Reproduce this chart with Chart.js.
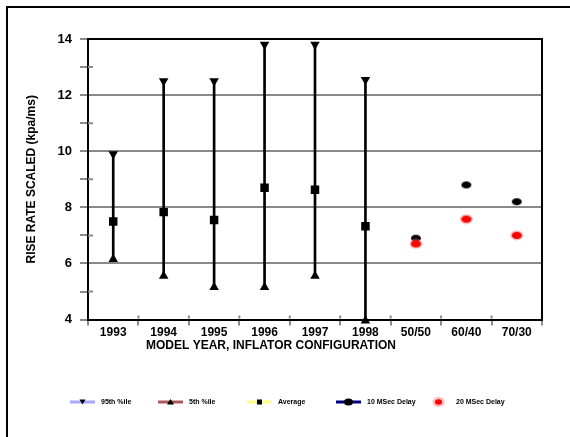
<!DOCTYPE html>
<html>
<head>
<meta charset="utf-8">
<script src="https://cdn.jsdelivr.net/npm/chart.js@4/dist/chart.umd.min.js"></script>
<style>
  body { margin: 0; background: #fff; }
  canvas { display: block; }
</style>
</head>
<body>
<canvas id="chart" width="570" height="437"></canvas>
<script>
// values
const categories = ['1993', '1994', '1995', '1996', '1997', '1998', '50/50', '60/40', '70/30'];
const pct95 = [9.9, 12.5, 12.5, 13.8, 13.8, 12.55, null, null, null];
const pct5 = [6.15, 5.55, 5.15, 5.15, 5.55, 3.96, null, null, null];
const average = [7.5, 7.83, 7.55, 8.7, 8.63, 7.33, null, null, null];
const delay10 = [null, null, null, null, null, null, 6.9, 8.8, 8.2];
const delay20 = [null, null, null, null, null, null, 6.7, 7.58, 7.0];
const yTickLabels = [4, 6, 8, 10, 12, 14];

const seriesNames = ['95th %ile', '5th %ile', 'Average', '10 MSec Delay', '20 MSec Delay'];
const legendLineColors = ['#a8a8ff', '#a85a5a', '#ffff88', '#000080', null];

const FONT = 'Arial, "Liberation Sans", sans-serif';
const GRID = '#8a8a8a';

// little ellipse images for the round markers
function ellipseMarker(w, h, color, halo) {
  const c = document.createElement('canvas');
  c.width = w + 4; c.height = h + 4;
  const g = c.getContext('2d');
  if (halo) {
    g.fillStyle = halo;
    g.beginPath(); g.ellipse(c.width / 2, c.height / 2, w / 2 + 1.5, h / 2 + 1.5, 0, 0, Math.PI * 2); g.fill();
  }
  g.fillStyle = color;
  g.beginPath(); g.ellipse(c.width / 2, c.height / 2, w / 2, h / 2, 0, 0, Math.PI * 2); g.fill();
  return c;
}
const blackDot = ellipseMarker(10, 7, '#000');
const redDot = ellipseMarker(10, 7, '#ff0000', 'rgba(255,120,120,0.5)');

// black frame round the plot area (top and right sides), tick stubs inside, outer page frame
const frames = {
  id: 'frames',
  beforeDatasetsDraw(chart) {
    const { ctx, chartArea: a, scales } = chart;
    ctx.save();
    ctx.strokeStyle = '#000';
    ctx.lineWidth = 2;
    ctx.beginPath();
    ctx.moveTo(a.left, a.top);
    ctx.lineTo(a.right, a.top);
    ctx.lineTo(a.right, a.bottom);
    ctx.stroke();
    // tick marks cross the axes a little
    ctx.strokeStyle = GRID;
    ctx.beginPath();
    scales.y.ticks.forEach((t, i) => {
      if (yTickLabels.includes(t.value)) return;
      const py = scales.y.getPixelForTick(i);
      ctx.moveTo(a.left, py); ctx.lineTo(a.left + 5, py);
    });
    const n = categories.length;
    for (let i = 1; i < n; i++) {
      const px = (scales.x.getPixelForTick(i - 1) + scales.x.getPixelForTick(i)) / 2;
      ctx.moveTo(px, a.bottom - 1); ctx.lineTo(px, a.bottom - 4);
    }
    ctx.stroke();
    ctx.restore();
  },
  afterDraw(chart) {
    const ctx = chart.ctx;
    ctx.save();
    ctx.fillStyle = '#000';
    ctx.fillRect(6, 6, 2, chart.height);
    ctx.fillRect(6, 6, chart.width, 2);
    ctx.restore();
  }
};

// Excel-style legend: short coloured line with the marker on it
const legendXs = [70, 158, 247, 336, 426];
const legend = {
  id: 'excelLegend',
  afterDraw(chart) {
    const ctx = chart.ctx;
    const y = 402;
    ctx.save();
    ctx.font = 'bold 7px ' + FONT;
    ctx.textBaseline = 'middle';
    seriesNames.forEach((name, i) => {
      const x0 = legendXs[i];
      const mx = x0 + 12.5;
      if (legendLineColors[i]) {
        ctx.strokeStyle = legendLineColors[i];
        ctx.lineWidth = 3;
        ctx.beginPath(); ctx.moveTo(x0, y); ctx.lineTo(x0 + 25, y); ctx.stroke();
      }
      ctx.fillStyle = '#000';
      ctx.beginPath();
      if (i === 0) {
        ctx.moveTo(mx - 3, y - 2.5); ctx.lineTo(mx + 3, y - 2.5); ctx.lineTo(mx, y + 2.5);
        ctx.fill();
      } else if (i === 1) {
        ctx.moveTo(mx - 3.5, y + 2.5); ctx.lineTo(mx + 3.5, y + 2.5); ctx.lineTo(mx, y - 3);
        ctx.fill();
      } else if (i === 2) {
        ctx.fillRect(mx - 2.5, y - 2.5, 5, 5);
      } else if (i === 3) {
        ctx.ellipse(mx, y, 4.5, 3.5, 0, 0, Math.PI * 2); ctx.fill();
      } else {
        ctx.fillStyle = 'rgba(255,140,140,0.6)';
        ctx.ellipse(mx, y, 6, 5, 0, 0, Math.PI * 2); ctx.fill();
        ctx.fillStyle = '#ff0000';
        ctx.beginPath(); ctx.ellipse(mx, y, 3.5, 2.8, 0, 0, Math.PI * 2); ctx.fill();
      }
      ctx.fillStyle = '#000';
      ctx.fillText(name, i === 4 ? x0 + 30 : x0 + 31, y);
    });
    ctx.restore();
  }
};

new Chart(document.getElementById('chart'), {
  type: 'bar',
  data: {
    labels: categories,
    datasets: [
      {
        type: 'bar',
        label: 'range',
        data: pct5.map((lo, i) => lo == null ? null : [lo, pct95[i]]),
        backgroundColor: '#000',
        barThickness: 2,
        order: 10
      },
      {
        type: 'line', label: seriesNames[0], data: pct95, showLine: false,
        pointStyle: 'triangle', rotation: 180, pointRadius: 5.5,
        pointBackgroundColor: '#000', pointBorderWidth: 0, order: 1, clip: false
      },
      {
        type: 'line', label: seriesNames[1], data: pct5, showLine: false,
        pointStyle: 'triangle', pointRadius: 5.5,
        pointBackgroundColor: '#000', pointBorderWidth: 0, order: 1, clip: false
      },
      {
        type: 'line', label: seriesNames[2], data: average, showLine: false,
        pointStyle: 'rect', pointRadius: 6,
        pointBackgroundColor: '#000', pointBorderWidth: 0, order: 1
      },
      {
        type: 'line', label: seriesNames[3], data: delay10, showLine: false,
        pointStyle: blackDot, order: 2
      },
      {
        type: 'line', label: seriesNames[4], data: delay20, showLine: false,
        pointStyle: redDot, order: 1
      }
    ]
  },
  options: {
    responsive: false,
    devicePixelRatio: 1,
    animation: false,
    layout: { padding: { top: 39, right: 28, bottom: 0, left: 0 } },
    plugins: {
      legend: { display: false },
      tooltip: { enabled: false },
      title: {
        display: true,
        position: 'bottom',
        text: 'MODEL YEAR, INFLATOR CONFIGURATION',
        color: '#000',
        font: { family: FONT, weight: 'bold', size: 12 },
        padding: { top: 0, bottom: 84 }
      }
    },
    scales: {
      x: {
        offset: true,
        grid: { offset: true, drawOnChartArea: false, color: GRID, lineWidth: 2, tickLength: 6 },
        border: { color: '#000', width: 2 },
        ticks: {
          color: '#000', padding: 0, maxRotation: 0, autoSkip: false,
          font: { family: FONT, weight: 'bold', size: 12 }
        },
        afterFit: s => { s.height = 19; }
      },
      y: {
        min: 4, max: 14,
        ticks: {
          stepSize: 1, color: '#000', padding: 8,
          font: { family: FONT, weight: 'bold', size: 13 },
          callback: v => yTickLabels.includes(v) ? String(v) : ''
        },
        grid: {
          color: c => (c.tick && yTickLabels.includes(c.tick.value) && c.tick.value > 4 && c.tick.value < 14) ? GRID : 'rgba(0,0,0,0)',
          lineWidth: 2, tickColor: GRID, tickLength: 8
        },
        border: { color: '#000', width: 2 },
        title: {
          display: true,
          text: 'RISE RATE SCALED (kpa/ms)',
          color: '#000',
          font: { family: FONT, weight: 'bold', size: 12 },
          padding: { top: 24, bottom: 0 }
        },
        afterFit: s => { s.width = 88; }
      }
    }
  },
  plugins: [frames, legend]
});
</script>
</body>
</html>
